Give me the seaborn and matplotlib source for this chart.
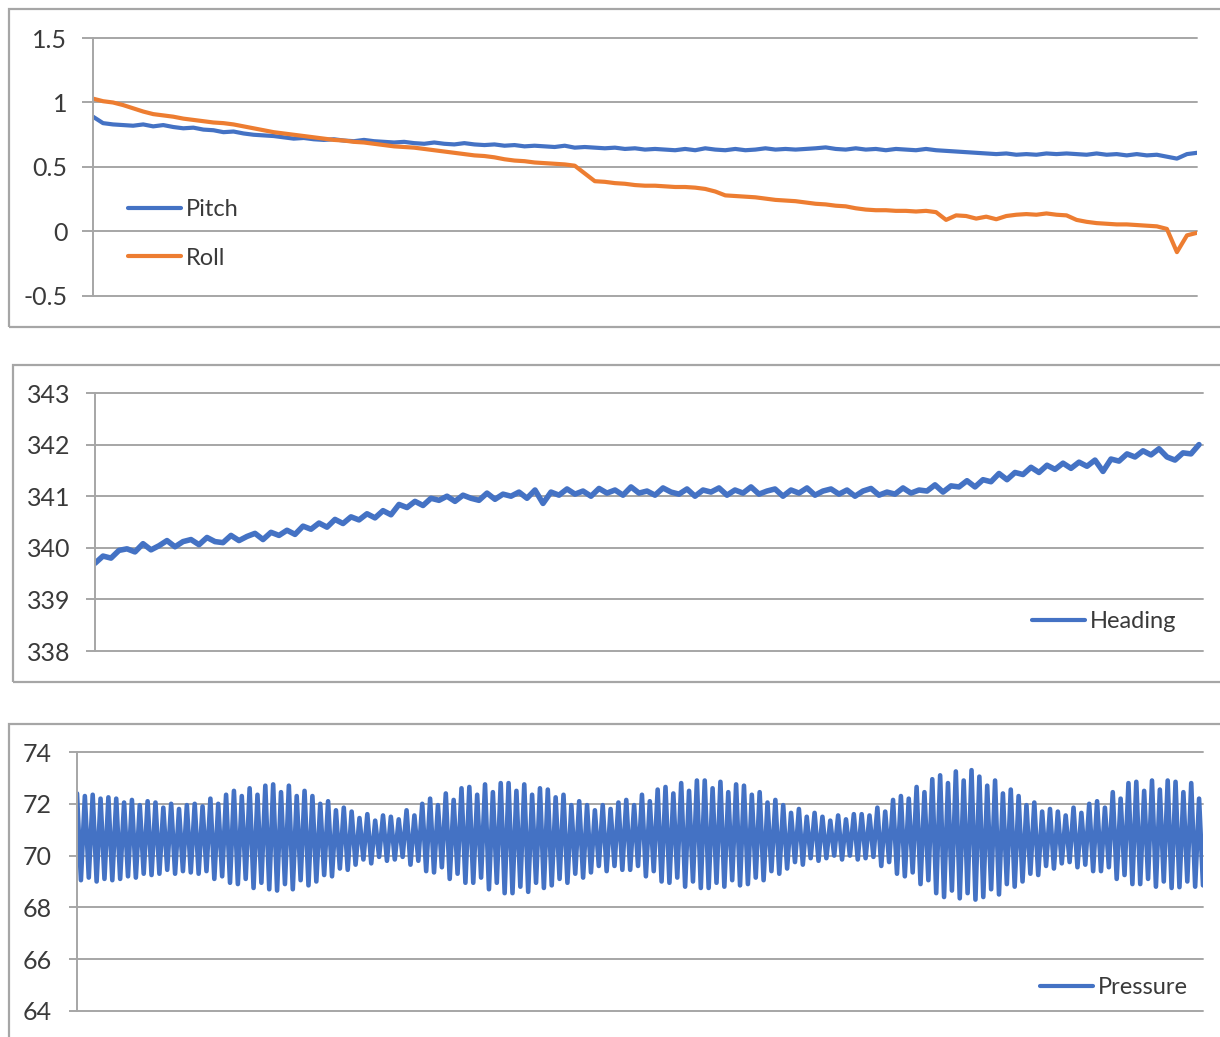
import numpy as np
import pandas as pd
import matplotlib
matplotlib.use('Agg')
import matplotlib.pyplot as plt
import seaborn as sns
from matplotlib.patches import Rectangle

# ---------------- data ----------------
pitch = [0.89,0.84,0.83,0.825,0.82,0.83,0.815,0.825,0.81,0.80,
         0.805,0.79,0.785,0.77,0.775,0.76,0.75,0.745,0.74,0.73,
         0.72,0.725,0.715,0.71,0.715,0.705,0.70,0.71,0.70,0.695,
         0.69,0.695,0.685,0.68,0.69,0.68,0.675,0.685,0.675,0.67,
         0.675,0.665,0.67,0.66,0.665,0.66,0.655,0.665,0.65,0.655,
         0.65,0.645,0.65,0.64,0.645,0.635,0.64,0.635,0.63,0.64,
         0.63,0.645,0.635,0.63,0.64,0.63,0.635,0.645,0.635,0.64,
         0.635,0.64,0.645,0.652,0.64,0.635,0.645,0.635,0.64,0.63,
         0.64,0.635,0.63,0.64,0.63,0.625,0.62,0.615,0.61,0.605,
         0.60,0.605,0.595,0.60,0.595,0.605,0.60,0.605,0.60,0.595,
         0.605,0.595,0.60,0.59,0.60,0.59,0.595,0.58,0.565,0.60,
         0.61]

roll = [1.03,1.01,1.00,0.98,0.955,0.93,0.91,0.90,0.89,0.875,
        0.865,0.855,0.845,0.84,0.83,0.815,0.80,0.785,0.77,0.76,
        0.75,0.74,0.73,0.72,0.71,0.705,0.695,0.69,0.68,0.67,
        0.66,0.655,0.65,0.64,0.63,0.62,0.61,0.60,0.59,0.585,
        0.575,0.56,0.55,0.545,0.535,0.53,0.525,0.52,0.51,0.45,
        0.39,0.385,0.375,0.37,0.36,0.355,0.355,0.35,0.345,0.345,
        0.34,0.33,0.31,0.28,0.275,0.27,0.265,0.255,0.245,0.24,
        0.235,0.225,0.215,0.21,0.20,0.195,0.18,0.17,0.165,0.165,
        0.16,0.16,0.155,0.16,0.15,0.09,0.125,0.12,0.10,0.115,
        0.095,0.12,0.13,0.135,0.13,0.14,0.13,0.125,0.09,0.075,
        0.065,0.06,0.055,0.055,0.05,0.045,0.04,0.02,-0.16,-0.03,
        -0.01]

heading = [339.70,339.84,339.80,339.95,339.98,339.92,340.08,339.96,340.04,340.14,
           340.02,340.12,340.16,340.06,340.20,340.12,340.10,340.24,340.14,340.22,
           340.28,340.16,340.30,340.24,340.34,340.26,340.42,340.36,340.48,340.40,
           340.55,340.47,340.60,340.54,340.66,340.58,340.72,340.64,340.84,340.78,
           340.90,340.82,340.96,340.92,341.00,340.90,341.02,340.96,340.92,341.06,
           340.94,341.04,341.00,341.08,340.96,341.12,340.86,341.08,341.02,341.14,
           341.04,341.10,341.00,341.15,341.06,341.12,341.02,341.18,341.06,341.10,
           341.02,341.16,341.08,341.04,341.14,341.00,341.12,341.08,341.16,341.02,
           341.12,341.06,341.18,341.04,341.10,341.14,341.00,341.12,341.06,341.16,
           341.02,341.10,341.14,341.04,341.12,341.00,341.10,341.15,341.02,341.08,
           341.04,341.16,341.06,341.12,341.10,341.22,341.08,341.20,341.18,341.30,
           341.18,341.32,341.28,341.44,341.32,341.46,341.42,341.56,341.46,341.60,
           341.52,341.64,341.54,341.66,341.58,341.70,341.48,341.72,341.68,341.82,
           341.76,341.88,341.80,341.92,341.76,341.70,341.84,341.82,342.00]

pressure_peaks = [72.40,72.30,72.35,72.20,72.25,72.20,72.05,72.15,71.95,72.10,
                  72.05,71.85,72.00,71.80,71.95,72.00,71.90,72.20,72.00,72.35,
                  72.50,72.30,72.60,72.35,72.70,72.75,72.45,72.70,72.30,72.50,
                  72.30,72.00,72.10,71.75,71.85,71.70,71.45,71.60,71.35,71.55,
                  71.50,71.40,71.75,71.55,72.00,72.20,71.95,72.40,72.15,72.60,
                  72.65,72.35,72.75,72.45,72.80,72.80,72.50,72.75,72.35,72.60,
                  72.55,72.25,72.35,71.95,72.10,71.95,71.75,71.95,71.80,72.05,
                  72.15,71.95,72.35,72.10,72.55,72.65,72.40,72.80,72.50,72.90,
                  72.90,72.60,72.85,72.45,72.75,72.70,72.35,72.45,72.05,72.15,
                  71.95,71.65,71.80,71.50,71.65,71.50,71.35,71.55,71.40,71.60,
                  71.60,71.55,71.85,71.70,72.15,72.30,72.20,72.65,72.45,72.95,
                  73.10,72.80,73.25,72.90,73.30,73.05,72.70,72.90,72.40,72.55,
                  72.30,71.95,72.05,71.70,71.80,71.70,71.55,71.85,71.65,72.00,
                  72.10,71.85,72.45,72.20,72.80,72.85,72.50,72.90,72.55,72.90,
                  72.85,72.45,72.80,72.20]

pressure_troughs = [69.05,69.15,69.00,69.10,69.05,69.10,69.20,69.15,69.30,69.25,
                    69.30,69.45,69.30,69.40,69.35,69.30,69.40,69.10,69.20,68.95,
                    68.90,69.10,68.75,68.95,68.70,68.65,68.90,68.70,69.05,68.85,
                    69.00,69.25,69.20,69.50,69.45,69.65,69.85,69.70,69.95,69.80,
                    69.85,69.95,69.65,69.80,69.40,69.35,69.55,69.10,69.30,68.95,
                    68.95,69.15,68.70,68.95,68.55,68.55,68.80,68.60,68.95,68.75,
                    68.85,69.10,68.95,69.30,69.15,69.35,69.60,69.40,69.60,69.45,
                    69.45,69.60,69.20,69.40,69.00,68.95,69.15,68.80,69.00,68.75,
                    68.75,68.95,68.80,69.05,68.85,68.90,69.15,69.05,69.40,69.30,
                    69.50,69.75,69.65,69.90,69.80,69.90,70.00,69.85,70.00,69.85,
                    69.90,69.95,69.60,69.75,69.30,69.20,69.35,68.90,69.05,68.55,
                    68.40,68.65,68.35,68.55,68.30,68.40,68.70,68.50,68.90,68.80,
                    69.00,69.30,69.25,69.60,69.50,69.70,69.75,69.55,69.65,69.40,
                    69.40,69.55,69.10,69.25,68.90,68.90,69.10,68.80,69.00,68.75,
                    68.78,69.00,68.80,68.85]

ticks_top = [-0.5, 0, 0.5, 1, 1.5]
labels_top = ['-0.5', '0', '0.5', '1', '1.5']
ticks_mid = [338, 339, 340, 341, 342, 343]
ticks_bot = [64, 66, 68, 70, 72, 74]

# ---------------- style ----------------
sns.set_theme(style='white')
plt.rcParams['font.family'] = ['Lato', 'DejaVu Sans']

W, H = 1220, 1037
fig = plt.figure(figsize=(W / 100, H / 100), dpi=100)
fig.patch.set_facecolor('white')

GRID = '#a6a6a6'
TEXT = '#3a3a3a'
BLUE = '#4472C4'
ORANGE = '#ED7D31'
FS = 18


def axes_px(l, t, r, b):
    return fig.add_axes([l / W, 1 - b / H, (r - l) / W, (b - t) / H])


def border(l, t, b):
    fig.patches.append(Rectangle((l / W, 1 - b / H), (W + 40 - l) / W, (b - t) / H,
                                 transform=fig.transFigure, fill=False,
                                 edgecolor=GRID, lw=1.6, zorder=0))


def style(ax, ticks, labels, length, pad):
    ax.set_ylim(ticks[0], ticks[-1])
    ax.set_yticks(ticks)
    ax.set_yticklabels(labels)
    ax.set_xticks([])
    ax.set_xlabel('')
    ax.set_ylabel('')
    for s in ['top', 'right', 'bottom']:
        ax.spines[s].set_visible(False)
    ax.spines['left'].set_color(GRID)
    ax.spines['left'].set_linewidth(1.4)
    ax.yaxis.grid(True, color=GRID, lw=1.4)
    for gl in ax.get_ygridlines():
        gl.set_clip_on(False)
    ax.set_axisbelow(True)
    ax.tick_params(axis='y', left=True, length=length, width=1.4, color=GRID,
                   pad=pad, labelsize=FS, labelcolor=TEXT)
    ax.set_facecolor('none')


def legend(ax, x, y, spacing=0.9, lw=3.0):
    leg = ax.legend(loc='center left', bbox_to_anchor=(x, y), frameon=False,
                    handlelength=2.25, handletextpad=0.2, labelspacing=spacing,
                    borderpad=0, borderaxespad=0, fontsize=FS - 1)
    for t in leg.get_texts():
        t.set_color(TEXT)
    for line in leg.get_lines():
        line.set_linewidth(lw)


border(9, 9, 327)
border(13, 365, 682)
border(8.5, 724, 1080)

# ---------------- panel 1: pitch & roll ----------------
ax1 = axes_px(93, 38, 1197, 296)
idx = np.arange(len(pitch))
sns.lineplot(x=idx, y=pitch, ax=ax1, color=BLUE, linewidth=3.0, label='Pitch')
sns.lineplot(x=idx, y=roll, ax=ax1, color=ORANGE, linewidth=3.0, label='Roll')
ax1.set_xlim(0, len(pitch) - 1)
style(ax1, ticks_top, labels_top, length=8, pad=10.5)
legend(ax1, (128 - 93) / 1104, (296 - 234) / 258, spacing=1.15)

# ---------------- panel 2: heading ----------------
ax2 = axes_px(95, 393, 1203, 651)
hidx = np.arange(len(heading))
sns.lineplot(x=hidx, y=heading, ax=ax2, color=BLUE, linewidth=4.0, label='Heading')
ax2.set_xlim(0, len(heading) - 0.5)
style(ax2, ticks_mid, [str(t) for t in ticks_mid], length=6.5, pad=11.5)
legend(ax2, (1032 - 95) / 1108, (651 - 622) / 258)

# ---------------- panel 3: pressure ----------------
ax3 = axes_px(77, 752, 1203, 1011)
pressure = np.empty(2 * len(pressure_peaks))
pressure[0::2] = pressure_peaks
pressure[1::2] = pressure_troughs
pidx = np.arange(len(pressure))
sns.lineplot(x=pidx, y=pressure, ax=ax3, color=BLUE, linewidth=3.3, label='Pressure')
ax3.set_xlim(0, len(pressure) - 1)
style(ax3, ticks_bot, [str(t) for t in ticks_bot], length=6, pad=12)
legend(ax3, (1040 - 77) / 1126, (1011 - 988) / 259)

fig.savefig('out.png', dpi=100, facecolor='white')
